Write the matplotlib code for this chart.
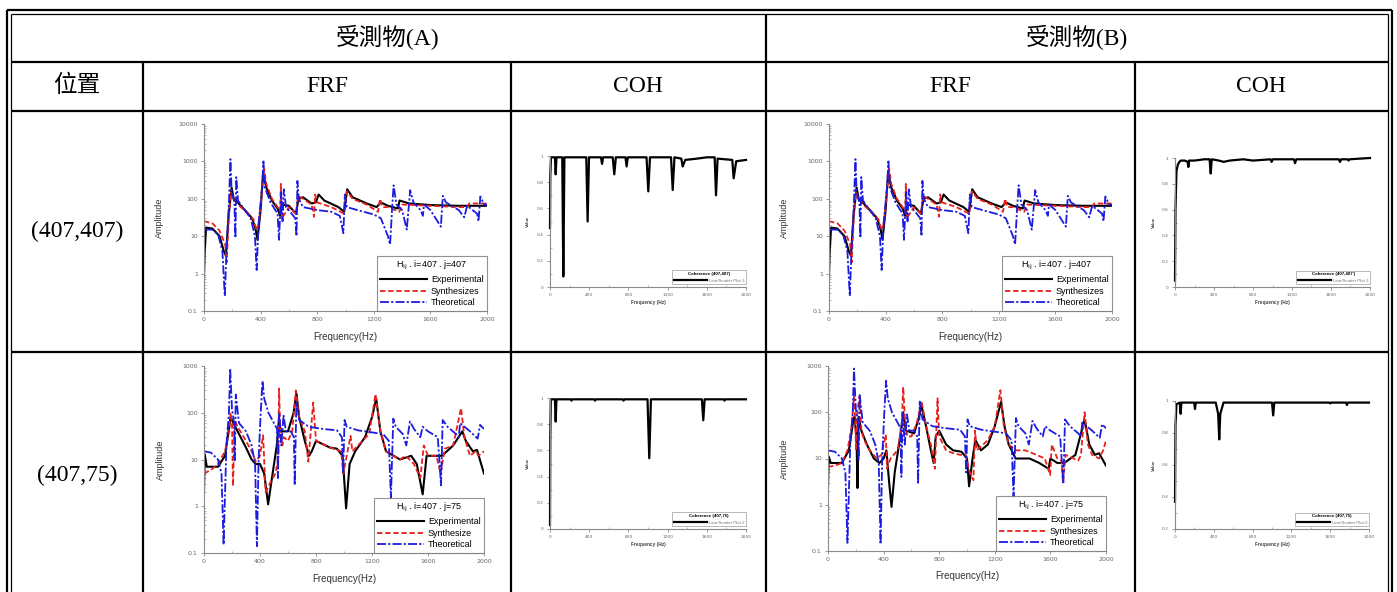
import matplotlib
matplotlib.use("Agg")
import matplotlib.pyplot as plt
from matplotlib.lines import Line2D
from matplotlib.ticker import MultipleLocator, NullFormatter, LogLocator

# ---- data ----
# row 1, H(407,407): the A and B panels show the same curves
r1_exp_f = [0, 5, 15, 60, 110, 140, 155, 175, 195, 210, 225, 260, 300, 340, 365, 378, 400, 418, 440, 480,
            520, 538, 550, 600, 650, 668, 700, 760, 790, 810, 850, 950, 990, 1012, 1050, 1150, 1220, 1250, 1300, 1370,
            1382, 1450, 1600, 1800, 2000]
r1_exp_a = [0.8, 4, 17, 16, 10, 4, 3, 40, 200, 100, 90, 65, 45, 30, 15, 8, 50, 500, 200, 90,
            55, 35, 70, 65, 40, 100, 110, 75, 80, 130, 90, 60, 45, 180, 110, 75, 60, 80, 65, 55,
            90, 75, 68, 65, 65]
r1_syn_f = [0, 5, 60, 110, 150, 160, 175, 190, 200, 215, 260, 300, 350, 370, 385, 400, 425, 440, 480, 520,
            538, 543, 550, 600, 650, 665, 700, 760, 778, 785, 800, 900, 990, 1010, 1050, 1150, 1230, 1244, 1260, 1300,
            1380, 1400, 1500, 1600, 1800, 1860, 1875, 2000]
r1_syn_a = [25, 25, 22, 14, 6, 2, 30, 150, 120, 90, 60, 45, 28, 15, 20, 60, 650, 250, 100, 60,
            45, 250, 30, 60, 40, 120, 100, 70, 33, 130, 80, 60, 40, 160, 100, 70, 45, 100, 60, 60,
            45, 70, 68, 65, 60, 60, 75, 75]
r1_the_f = [5, 60, 100, 130, 147, 160, 175, 187, 195, 215, 222, 228, 240, 280, 330, 360, 372, 385, 410, 420,
            430, 470, 520, 530, 545, 555, 564, 580, 620, 645, 654, 660, 670, 700, 800, 900, 960, 985, 995, 1010,
            1100, 1200, 1250, 1300, 1315, 1330, 1340, 1360, 1400, 1433, 1457, 1480, 1530, 1547, 1555, 1600, 1674, 1688,
            1710, 1800, 1839, 1860, 1930, 1940, 1953, 1980, 2000]
r1_the_a = [15, 15, 11, 4, 0.25, 5, 60, 1150, 150, 80, 9, 380, 90, 55, 30, 10, 1.25, 20, 200, 1000,
            200, 80, 40, 8, 150, 25, 180, 60, 40, 30, 10, 300, 100, 60, 50, 45, 35, 12, 130, 60,
            48, 38, 30, 10, 6, 60, 230, 70, 50, 15, 170, 80, 50, 35, 70, 50, 18, 120,
            80, 50, 32, 65, 40, 25, 115, 70, 70]

# row 2, H(407,75): theoretical curve is the same in A and B
r2_the_f = [0, 50, 100, 125, 140, 160, 178, 187, 200, 215, 220, 227, 250, 300, 340, 365, 378, 390, 405, 418,
            430, 460, 500, 522, 528, 537, 552, 568, 585, 620, 642, 648, 660, 680, 750, 850, 950, 985, 994, 1004,
            1020, 1100, 1200, 1280, 1320, 1335, 1352, 1370, 1420, 1445, 1471, 1500, 1545, 1562, 1600, 1670, 1693, 1705,
            1740, 1800, 1820, 1829, 1900, 1955, 1972, 2000]
r2_the_a = [15, 14, 10, 5, 0.15, 20, 100, 880, 120, 60, 9, 245, 60, 40, 20, 8, 0.14, 10, 100, 480,
            200, 100, 60, 45, 4, 100, 20, 90, 40, 40, 30, 2.8, 170, 70, 50, 45, 42, 30, 5, 70,
            50, 42, 38, 35, 25, 1.5, 75, 50, 35, 20, 65, 45, 30, 50, 40, 30, 2.8, 70,
            50, 35, 30, 60, 40, 28, 55, 45]
r2a_syn_f = [0, 50, 100, 150, 180, 190, 200, 207, 220, 240, 260, 300, 340, 370, 400, 422, 440, 480, 510, 530,
             536, 545, 560, 570, 600, 630, 656, 680, 720, 745, 780, 800, 900, 980, 995, 1047, 1060, 1100, 1180, 1225,
             1260, 1300, 1350, 1400, 1440, 1500, 1545, 1570, 1600, 1660, 1690, 1720, 1780, 1836, 1860, 1900, 1940, 1960,
             2000]
r2a_syn_a = [5, 6, 8, 15, 40, 100, 60, 2.7, 70, 50, 40, 25, 15, 9, 12, 33, 2, 3.5, 5, 10,
             330, 40, 20, 30, 25, 40, 300, 80, 40, 9, 165, 25, 18, 15, 5, 32, 15, 20, 35, 250,
             40, 15, 12, 10, 12, 8, 4, 20, 12, 12, 5, 17, 20, 125, 30, 12, 15, 12,
             15]
r2a_exp_f = [0, 5, 20, 100, 150, 190, 210, 250, 300, 340, 370, 400, 430, 458, 490, 520, 535, 550, 600, 640,
             660, 680, 720, 750, 770, 800, 900, 950, 990, 1015, 1040, 1080, 1150, 1200, 1230, 1260, 1300, 1400, 1480, 1520,
             1562, 1590, 1650, 1700, 1780, 1845, 1870, 1920, 1950, 2000]
r2a_exp_a = [2, 13, 7, 7, 12, 80, 60, 35, 18, 10, 8, 8, 5, 1.1, 5, 20, 70, 40, 40, 100,
             260, 80, 25, 12, 15, 25, 18, 17, 12, 0.9, 8, 15, 30, 80, 200, 40, 15, 10, 12, 8,
             1.8, 12, 12, 12, 20, 40, 25, 15, 16, 5]
r2b_syn_f = [0, 50, 100, 140, 170, 187, 195, 202, 210, 228, 240, 260, 300, 350, 385, 416, 425, 450, 500, 530,
             541, 555, 570, 600, 640, 673, 700, 740, 769, 788, 800, 850, 900, 950, 990, 1020, 1046, 1058, 1070, 1100,
             1150, 1200, 1240, 1265, 1300, 1350, 1420, 1500, 1560, 1598, 1610, 1650, 1680, 1690, 1710, 1800, 1820, 1846,
             1870, 1900, 1950, 1980, 2000]
r2b_syn_a = [6.6, 7, 8, 15, 50, 215, 80, 15, 100, 225, 40, 25, 15, 10, 12, 33, 6, 10, 15, 50,
             350, 60, 30, 30, 60, 175, 60, 20, 6, 200, 30, 15, 13, 12, 12, 5, 3.4, 40, 15, 18,
             25, 50, 300, 50, 20, 15, 15, 12, 10, 4.4, 20, 10, 9, 3, 12, 9, 12, 100,
             20, 12, 10, 15, 25]
r2b_exp_f = [0, 5, 20, 100, 150, 180, 190, 205, 212, 220, 240, 280, 330, 370, 400, 420, 440, 457, 480, 520,
             541, 560, 620, 660, 668, 700, 740, 760, 775, 800, 850, 900, 960, 1000, 1015, 1040, 1060, 1100, 1150, 1200,
             1245, 1270, 1300, 1350, 1450, 1520, 1587, 1600, 1650, 1700, 1780, 1846, 1880, 1920, 1950, 1980, 2000]
r2b_exp_a = [2.3, 11, 8, 8, 15, 60, 80, 30, 2.3, 80, 40, 20, 10, 8, 10, 15, 3, 0.9, 5, 30,
             100, 40, 35, 90, 160, 60, 15, 8, 30, 40, 20, 15, 14, 10, 2.5, 10, 25, 15, 20, 50,
             170, 50, 20, 10, 10, 8, 6, 10, 8, 8, 12, 70, 20, 12, 13, 9, 7]

# coherence curves
coh1a_f = [0, 3, 10, 50, 58, 66, 125, 136, 147, 370, 384, 398, 520, 531, 542, 640, 656, 672, 770, 782,
           794, 985, 1003, 1020, 1235, 1252, 1270, 1340, 1354, 1380, 1500, 1600, 1680, 1694, 1710, 1860, 1874, 1900, 2000]
coh1a_v = [0.45, 0.85, 0.99, 0.99, 0.86, 0.99, 0.99, 0.08, 0.99, 0.99, 0.50, 0.99, 0.99, 0.94, 0.99, 0.99, 0.86, 0.99, 0.99, 0.92,
           0.99, 0.99, 0.73, 0.99, 0.99, 0.74, 0.99, 0.98, 0.92, 0.97, 0.98, 0.99, 0.99, 0.70, 0.98, 0.97, 0.83, 0.96, 0.97]
coh1b_f = [0, 5, 15, 30, 45, 60, 100, 130, 137, 145, 200, 300, 355, 366, 377, 450, 500, 560, 700, 800,
           980, 991, 1005, 1220, 1231, 1245, 1680, 1692, 1705, 1770, 1780, 1790, 2000]
coh1b_v = [0.05, 0.6, 0.9, 0.95, 0.97, 0.98, 0.98, 0.97, 0.93, 0.98, 0.98, 0.99, 0.99, 0.88, 0.99, 0.98, 0.97, 0.98, 0.99, 0.98,
           0.99, 0.97, 0.99, 0.99, 0.96, 0.99, 0.99, 0.97, 0.99, 0.99, 0.98, 0.99, 1.0]
coh2a_f = [0, 3, 8, 50, 58, 66, 210, 220, 230, 450, 460, 470, 740, 750, 760, 995, 1013, 1030, 1550, 1564,
           1578, 1770, 1780, 1790, 2000]
coh2a_v = [0.03, 0.7, 0.99, 0.99, 0.82, 0.99, 0.99, 0.98, 0.99, 0.99, 0.98, 0.99, 0.99, 0.98, 0.99, 0.99, 0.54, 0.99, 0.99, 0.83,
           0.99, 0.99, 0.98, 0.99, 0.99]
coh2b_f = [0, 5, 15, 50, 58, 66, 198, 206, 214, 420, 445, 456, 467, 500, 1000, 1012, 1024, 1590, 1600, 1610,
           1765, 1772, 1780, 2000]
coh2b_v = [0.37, 0.85, 0.98, 0.99, 0.92, 0.99, 0.99, 0.95, 0.99, 0.99, 0.92, 0.76, 0.92, 0.99, 0.99, 0.91, 0.99, 0.99, 0.985, 0.99,
           0.99, 0.975, 0.99, 0.99]

group_labels = ["受測物(A)", "受測物(B)"]
col_labels = ["位置", "FRF", "COH", "FRF", "COH"]
row_labels = ["(407,407)", "(407,75)"]

W, H = 1397, 592
fig = plt.figure(figsize=(W / 100, H / 100), dpi=100)
serif = ["Liberation Serif", "Noto Sans CJK TC"]
sans = "Liberation Sans"


def hline(y, x0, x1, lw):
    fig.add_artist(Line2D([x0 / W, x1 / W], [1 - y / H, 1 - y / H], color="black", lw=lw,
                          transform=fig.transFigure, solid_capstyle="butt"))


def vline(x, y0, y1, lw):
    fig.add_artist(Line2D([x / W, x / W], [1 - y0 / H, 1 - y1 / H], color="black", lw=lw,
                          transform=fig.transFigure, solid_capstyle="butt"))


def add_ax(l, t, r, b):
    return fig.add_axes([l / W, 1 - b / H, (r - l) / W, (b - t) / H])


def style_axes(ax, fs):
    for s in ["top", "right"]:
        ax.spines[s].set_visible(False)
    for s in ["left", "bottom"]:
        ax.spines[s].set_color("#8a8a8a")
        ax.spines[s].set_linewidth(0.8)
    ax.tick_params(which="major", length=2.5, width=0.6, color="#8a8a8a", labelsize=fs,
                   labelcolor="#666666", pad=2)
    ax.tick_params(which="minor", length=1.5, width=0.5, color="#9a9a9a", direction="in")
    ax.set_facecolor("none")


def frf_panel(box, exp, syn, the, top, title, syn_name):
    ax = add_ax(*box)
    ax.plot(exp[0], exp[1], color="black", lw=1.5, label="Experimental")
    ax.plot(syn[0], syn[1], color="#e8201c", lw=1.3, ls=(0, (3, 1.5)), label=syn_name)
    ax.plot(the[0], the[1], color="#1c1ce0", lw=1.3, ls=(0, (5, 1.2, 1.2, 1.2)), label="Theoretical")
    ax.set_yscale("log")
    ax.set_xlim(0, 2000)
    ax.set_ylim(0.1, 10 ** top)
    ticks = [10.0 ** k for k in range(-1, top + 1)]
    ax.set_yticks(ticks)
    ax.set_yticklabels(["0.1"] + [str(int(t)) for t in ticks[1:]])
    ax.yaxis.set_minor_locator(LogLocator(subs=range(2, 10)))
    ax.yaxis.set_minor_formatter(NullFormatter())
    ax.set_xticks(range(0, 2001, 400))
    ax.xaxis.set_minor_locator(MultipleLocator(200))
    style_axes(ax, 4.5)
    ax.set_ylabel("Amplitude", fontsize=6.5, color="#333333", family=sans)
    ax.yaxis.set_label_coords(-0.14, 0.5)
    ax.set_xlabel("Frequency(Hz)", fontsize=7, color="#333333", family=sans)
    ax.xaxis.set_label_coords(0.5, -0.11)
    leg = ax.legend(loc="lower right", bbox_to_anchor=(1.0, 0.0), borderaxespad=0.0,
                    title=title, title_fontsize=6.5, frameon=True, fancybox=False,
                    handlelength=5.2, handletextpad=0.4, labelspacing=0.3, borderpad=0.4,
                    prop={"family": sans, "size": 6.5})
    leg.get_frame().set_edgecolor("#777777")
    leg.get_frame().set_linewidth(0.8)
    leg.get_title().set_family(sans)
    return ax


def coh_panel(box, f, v, ylo, title, entry):
    ax = add_ax(*box)
    ax.plot(f, v, color="black", lw=1.6, clip_on=False, label=entry)
    ax.set_xlim(0, 2000)
    ax.set_ylim(ylo, 1.0)
    ticks = [round(ylo + 0.2 * k, 1) for k in range(int(round((1 - ylo) / 0.2)) + 1)]
    ax.set_yticks(ticks)
    ax.set_yticklabels(["0" if t == 0 else ("1" if t == 1 else str(t)) for t in ticks])
    ax.yaxis.set_minor_locator(MultipleLocator(0.1))
    ax.set_xticks(range(0, 2001, 400))
    ax.xaxis.set_minor_locator(MultipleLocator(200))
    style_axes(ax, 3.2)
    ax.set_ylabel("Value", fontsize=3.2, fontweight="bold", color="#444444", family=sans)
    ax.yaxis.set_label_coords(-0.1, 0.5)
    ax.set_xlabel("Frequency (Hz)", fontsize=3.4, fontweight="bold", color="#444444", family=sans)
    ax.xaxis.set_label_coords(0.5, -0.1)
    leg = ax.legend(loc="lower right", bbox_to_anchor=(1.0, 0.02), borderaxespad=0.0,
                    title=title, frameon=True, fancybox=False,
                    handlelength=7.5, handletextpad=0.3, borderpad=0.4,
                    prop={"family": sans, "size": 3.2})
    leg.get_title().set_fontsize(3.2)
    leg.get_title().set_fontweight("bold")
    leg.get_title().set_family(sans)
    for t in leg.get_texts():
        t.set_color("#777777")
    leg.get_frame().set_edgecolor("#999999")
    leg.get_frame().set_linewidth(0.6)
    return ax


# ---- charts ----
h1 = r"H$_{\rm ij}$ . i=407 . j=407"
h2 = r"H$_{\rm ij}$ . i=407 . j=75"
frf_panel((204, 124, 487, 311), (r1_exp_f, r1_exp_a), (r1_syn_f, r1_syn_a), (r1_the_f, r1_the_a), 4, h1, "Synthesizes")
frf_panel((829, 124, 1112, 311), (r1_exp_f, r1_exp_a), (r1_syn_f, r1_syn_a), (r1_the_f, r1_the_a), 4, h1, "Synthesizes")
frf_panel((204, 366, 484, 553), (r2a_exp_f, r2a_exp_a), (r2a_syn_f, r2a_syn_a), (r2_the_f, r2_the_a), 3, h2, "Synthesize")
frf_panel((828, 366, 1106, 551), (r2b_exp_f, r2b_exp_a), (r2b_syn_f, r2b_syn_a), (r2_the_f, r2_the_a), 3, h2, "Synthesizes")

coh_panel((550, 156, 746, 287), coh1a_f, coh1a_v, 0.0, "Coherence (407,407)", "Line/Scatter Plot 3")
coh_panel((1175, 158, 1370, 287), coh1b_f, coh1b_v, 0.0, "Coherence (407,407')", "Line/Scatter Plot 2")
coh_panel((550, 398, 746, 529), coh2a_f, coh2a_v, 0.0, "Coherence (407,75)", "Line/Scatter Plot 2")
coh_panel((1175, 401, 1369, 529), coh2b_f, coh2b_v, 0.2, "Coherence (407,75)", "Line/Scatter Plot 2")

# ---- table grid ----
hline(10, 6.5, 1391.5, 1.6)
hline(13.5, 10.5, 1387.5, 0.9)
for y in [62, 111, 352]:
    hline(y, 10.5, 1387.5, 1.6)
vline(6.5, 10, 592, 1.6)
vline(10.5, 13.5, 592, 0.9)
vline(1391.5, 10, 592, 1.6)
vline(1387.5, 13.5, 592, 0.9)
vline(766, 13.5, 592, 1.6)
for x in [143, 511, 1135]:
    vline(x, 62, 592, 1.6)


# ---- table text ----
def cell_text(x, y, s):
    fig.text(x / W, 1 - y / H, s, ha="center", va="center", fontsize=17, family=serif)


cell_text(388, 37, group_labels[0])
cell_text(1077, 37, group_labels[1])
for x, s in zip([77, 327, 638, 950, 1261], col_labels):
    cell_text(x, 86, s)
cell_text(77, 231, row_labels[0])
cell_text(77, 475, row_labels[1])

fig.savefig("out.png", dpi=100, facecolor="white")
